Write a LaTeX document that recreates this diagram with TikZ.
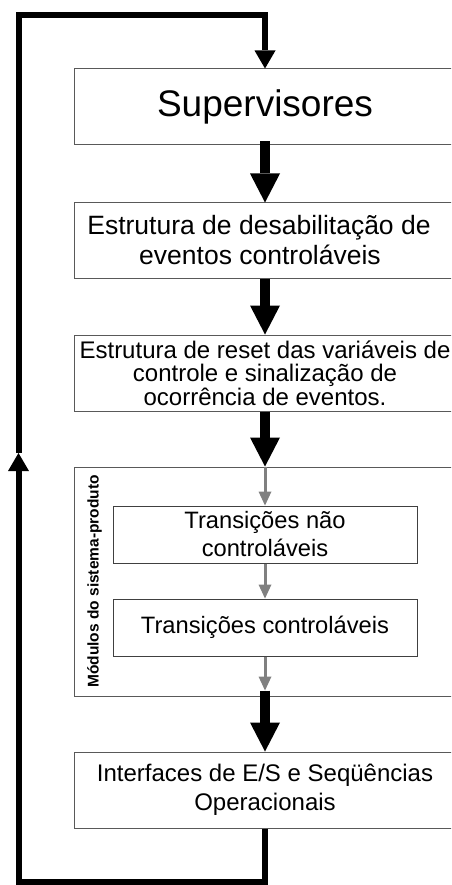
\documentclass[tikz,border=0pt]{standalone}
\usepackage{fontspec}
\setmainfont{Liberation Sans}
\usetikzlibrary{arrows.meta}
\begin{document}
\begin{tikzpicture}[x=1pt,y=-1pt,
  box/.style={draw=black!65, line width=1pt, fill=white, inner sep=0pt, align=center, minimum width=382pt},
  inbox/.style={draw=black!75, line width=1pt, fill=white, inner sep=0pt, align=center, minimum width=304pt, minimum height=57pt, font=\fontsize{23.7}{28}\selectfont},
  bigarrow/.style={line width=9.5pt, -{Triangle[width=30pt,length=29pt,line width=0pt]}},
  grayarrow/.style={draw=black!50, line width=3pt, -{Triangle[width=13pt,length=14pt,line width=0pt]}},
  loopline/.style={line width=6pt, line join=miter, line cap=butt},
  looptip/.style={-{Triangle[width=21pt,length=18pt,line width=0pt]}}
]
\useasboundingbox (0,0) rectangle (451,885);
\clip (0,0) rectangle (451,885);

\node[box, minimum height=76pt, font=\fontsize{37}{44}\selectfont] (sup) at (265,107) {Supervisores};
\node[box, minimum height=75pt, font=\fontsize{26.5}{30}\selectfont] (des) at (265,240.5) {Estrutura de desabilitação de\hspace*{12pt}\\eventos controláveis\hspace*{10pt}};
\node[box, minimum height=76pt, font=\fontsize{24}{23.5}\selectfont] (rst) at (265,373) {Estrutura de reset das variáveis de\\controle e sinalização de\\ocorrência de eventos.};
\node[box, minimum height=229pt] (mod) at (265,581.5) {};
\node[inbox] (unc) at (265,534.5) {Transições não\\controláveis};
\node[inbox] (ctl) at (265,627.5) {Transições controláveis};
\node[rotate=90, anchor=base, inner sep=0pt, font=\bfseries\fontsize{15.5}{18}\selectfont] (modlabel) at (98.5,581.5) {Módulos do sistema-produto};
\node[box, minimum height=76pt, font=\fontsize{24}{29}\selectfont] (ios) at (265,790) {Interfaces de E/S e Seqüências\\Operacionais};

\draw[bigarrow] ([yshift=4pt]sup.south) -- (des.north);
\draw[bigarrow] (des.south) -- (rst.north);
\draw[bigarrow] (rst.south) -- (mod.north);
\draw[grayarrow] (mod.north) -- (unc.north);
\draw[grayarrow] (unc.south) -- (ctl.north);
\coordinate (modout) at ([yshift=6pt]mod.south);
\draw[grayarrow] (ctl.south) -- (modout);
\draw[bigarrow] (modout) -- (ios.north);

\coordinate (lb) at (18.5,882);
\coordinate (lm) at (18.5,453);
\coordinate (lt) at (18.5,15);
\draw[loopline, looptip] (ios.south) |- (lb) -- (lm);
\draw[loopline, looptip] (lm) -- (lt) -| (sup.north);
\end{tikzpicture}
\end{document}
